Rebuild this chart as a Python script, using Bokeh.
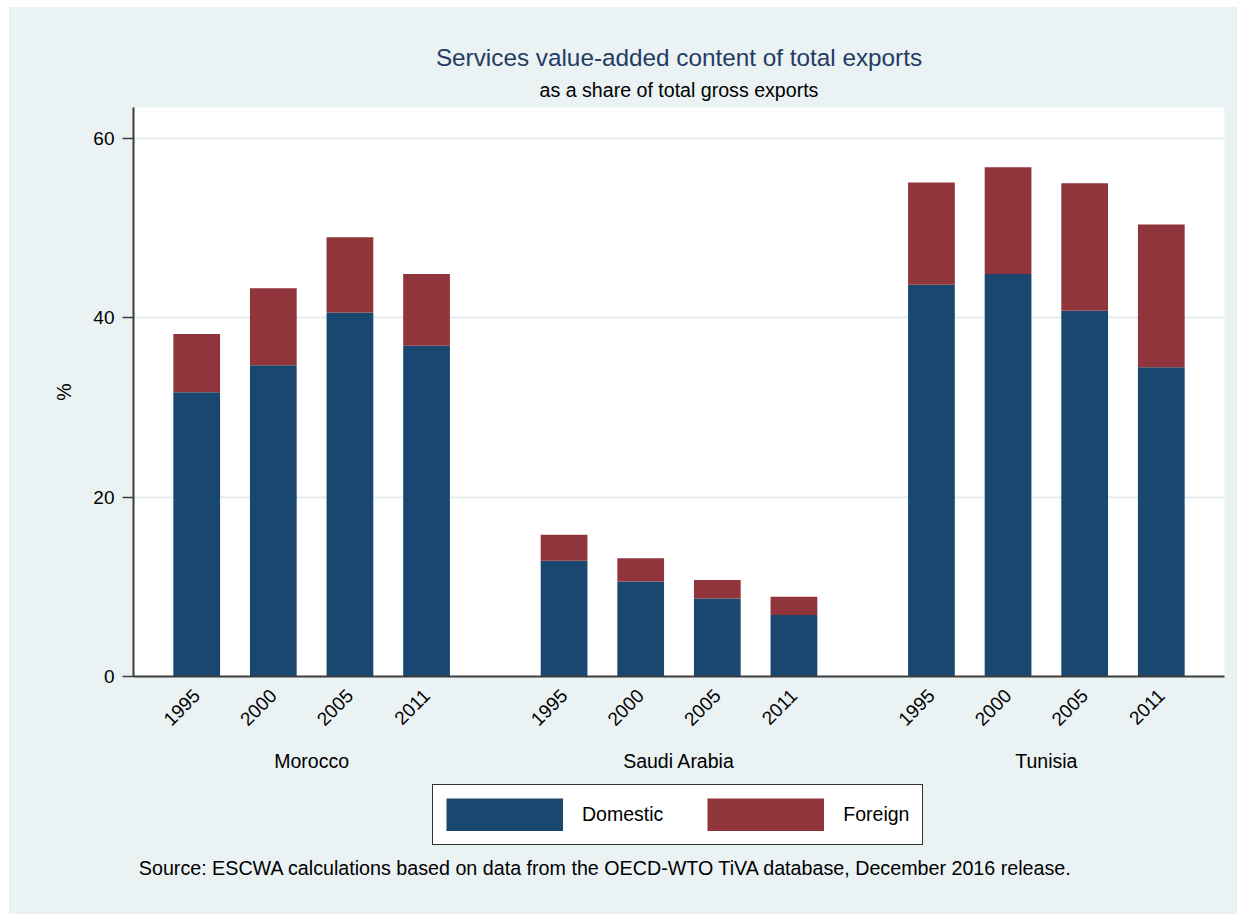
import math
from bokeh.plotting import figure
from bokeh.layouts import column
from bokeh.models import (ColumnDataSource, FactorRange, Range1d, FixedTicker,
                          Legend, LegendItem, Title, Label, CategoricalAxis)
from bokeh.embed import file_html
from bokeh.resources import INLINE

# ---- data ----
countries = ["Morocco", "Saudi Arabia", "Tunisia"]
years = ["1995", "2000", "2005", "2011"]
domestic = [31.7, 34.7, 40.6, 36.9,
            12.9, 10.6, 8.7, 6.85,
            43.7, 44.9, 40.8, 34.5]
foreign = [6.5, 8.6, 8.4, 8.0,
           2.9, 2.6, 2.05, 2.05,
           11.4, 11.9, 14.2, 15.9]
series = ["Domestic", "Foreign"]
y_ticks = [0, 20, 40, 60]

title_text = "Services value-added content of total exports"
subtitle_text = "as a share of total gross exports"
note_text = ("Source: ESCWA calculations based on data from the OECD-WTO TiVA "
             "database, December 2016 release.")

# ---- styles ----
colors = ["#1A476F", "#90353B"]
FONT = "Liberation Sans"
BG = "#EAF2F3"
AXIS = "#3C3C3C"

factors = [(c, y) for c in countries for y in years]
source = ColumnDataSource(dict(x=factors, Domestic=domestic, Foreign=foreign))
x_range = FactorRange(*factors, group_padding=0.795, factor_padding=0,
                      range_padding=0.325, range_padding_units="absolute")

# ================= main chart =================
p = figure(width=1228, height=769,
           x_range=x_range, y_range=Range1d(0, 63.46),
           output_backend="svg", toolbar_location=None,
           min_border_left=124, min_border_right=13,
           min_border_top=100, min_border_bottom=100,
           background_fill_color="white", border_fill_color=BG,
           outline_line_color=None)

p.vbar_stack(series, x="x", width=0.61, source=source,
             fill_color=colors, line_color=None)

# x axis (years)
xa = p.xaxis[0]
xa.major_label_orientation = math.pi / 4
xa.major_label_text_font = FONT
xa.major_label_text_font_size = "19px"
xa.major_label_text_color = "black"
xa.major_label_standoff = 10
xa.major_tick_line_color = None
xa.minor_tick_line_color = None
xa.axis_line_color = AXIS
xa.axis_line_width = 2
xa.group_text_color = None
xa.separator_line_color = None

# second categorical axis: country group labels
ax2 = CategoricalAxis(axis_line_color=None, major_tick_line_color=None,
                      minor_tick_line_color=None, separator_line_color=None,
                      major_label_text_color=None, major_label_standoff=9,
                      group_text_font=FONT, group_text_font_size="19.5px",
                      group_text_color="black", group_text_font_style="normal")
p.add_layout(ax2, "below")

# y axis
ya = p.yaxis[0]
ya.ticker = FixedTicker(ticks=y_ticks)
ya.major_tick_out = 11
ya.major_tick_in = 0
ya.major_tick_line_color = AXIS
ya.major_tick_line_width = 1.5
ya.minor_tick_line_color = None
ya.major_label_standoff = 8
ya.major_label_text_font = FONT
ya.major_label_text_font_size = "19px"
ya.major_label_text_color = "black"
ya.axis_line_color = AXIS
ya.axis_line_width = 2
ya.axis_label = "%"
ya.axis_label_standoff = 15
ya.axis_label_text_font = FONT
ya.axis_label_text_font_size = "19.5px"
ya.axis_label_text_font_style = "normal"
ya.axis_label_text_color = "black"

p.xgrid.grid_line_color = None
p.ygrid.ticker = FixedTicker(ticks=y_ticks)
p.ygrid.grid_line_color = "#E3ECEE"
p.ygrid.grid_line_width = 2

# titles (subtitle nearest the plot, title above it)
p.add_layout(Title(text=subtitle_text, align="center", standoff=12.6,
                   text_font=FONT, text_font_size="19.6px", text_font_style="normal",
                   text_color="black"), "above")
p.add_layout(Title(text=title_text, align="center", standoff=0,
                   text_font=FONT, text_font_size="24.3px", text_font_style="normal",
                   text_color="#243B63"), "above")

# ================= legend + source note strip =================
q = figure(width=1228, height=138, x_range=x_range, y_range=Range1d(0, 1),
           output_backend="svg", toolbar_location=None,
           x_axis_location=None, y_axis_location=None, min_border=0,
           background_fill_color=BG, border_fill_color=BG, outline_line_color=None)
q.xgrid.visible = False
q.ygrid.visible = False

# legend swatches: single-point lines (draw nothing in the strip), shown as bands
swatches = [q.line(x=[factors[0]], y=[vals[0]], line_color=c, line_width=33)
            for c, vals in zip(colors, [domestic, foreign])]
legend = Legend(items=[LegendItem(label=s, renderers=[r]) for s, r in zip(series, swatches)],
                location=(299, 68.6), orientation="horizontal",
                glyph_width=117, glyph_height=33, label_standoff=19,
                spacing=44, padding=13, margin=0,
                border_line_color="#333333", border_line_width=1.5, border_line_alpha=1,
                background_fill_color="white", background_fill_alpha=1,
                label_text_font=FONT, label_text_font_size="19.5px",
                label_text_color="black")
q.add_layout(legend)

q.add_layout(Label(x=5.3, y=47, x_units="screen", y_units="screen", text=note_text,
                   text_align="left", text_baseline="alphabetic",
                   text_font=FONT, text_font_size="19.7px", text_color="black"))

layout = column(p, q, spacing=0, margin=(7, 0, 0, 9),
                styles={"background-color": BG})
open("out.html", "w").write(file_html(layout, INLINE))
